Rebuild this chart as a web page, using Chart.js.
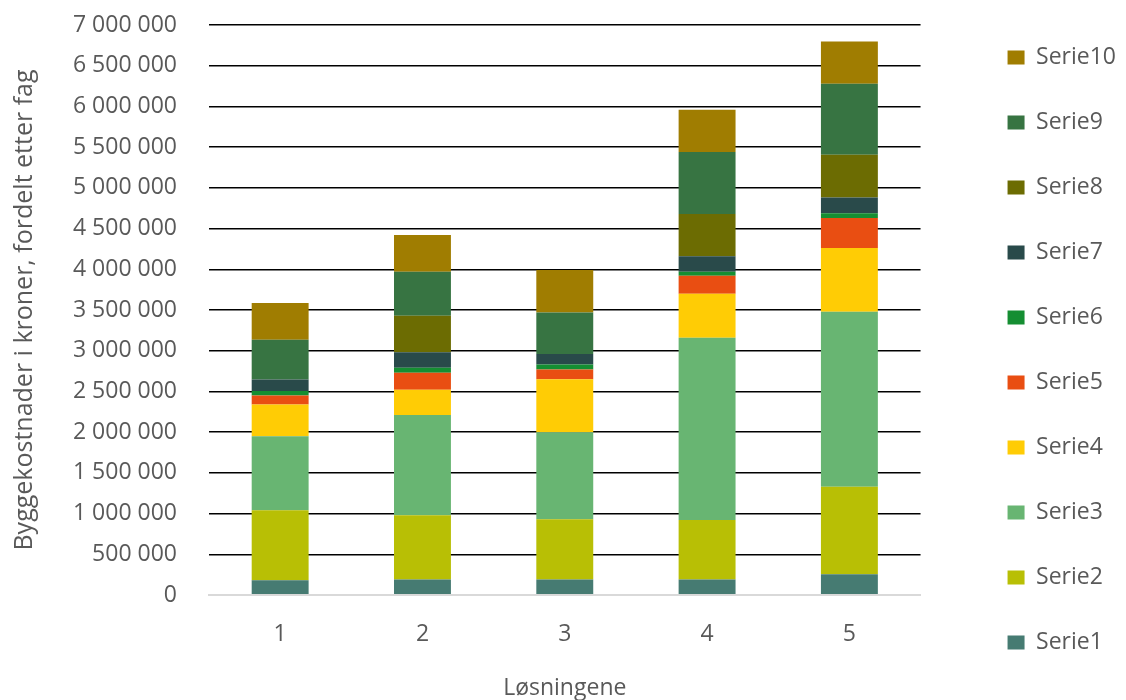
<!DOCTYPE html>
<html>
<head>
<meta charset="utf-8">
<script src="https://cdn.jsdelivr.net/npm/chart.js@4"></script>
<style>
  html, body { margin: 0; padding: 0; background: #fff; }
  #wrap { width: 1126px; height: 700px; position: relative; }
</style>
</head>
<body>
<div id="wrap"><canvas id="chart"></canvas></div>
<script>
// categories (løsninger)
const labels = ["1", "2", "3", "4", "5"];

// kroner per serie
const serie1 = [180000, 190000, 190000, 190000, 255000];
const serie2 = [860000, 790000, 740000, 730000, 1075000];
const serie3 = [910000, 1230000, 1070000, 2240000, 2150000];
const serie4 = [390000, 310000, 650000, 540000, 780000];
const serie5 = [110000, 210000, 120000, 220000, 370000];
const serie6 = [55000, 60000, 60000, 50000, 58000];
const serie7 = [140000, 190000, 130000, 190000, 195000];
const serie8 = [0, 450000, 0, 520000, 525000];
const serie9 = [490000, 540000, 510000, 760000, 870000];
const serie10 = [450000, 450000, 520000, 520000, 520000];

const seriesNames = ["Serie1", "Serie2", "Serie3", "Serie4", "Serie5",
                     "Serie6", "Serie7", "Serie8", "Serie9", "Serie10"];
const seriesData = [serie1, serie2, serie3, serie4, serie5,
                    serie6, serie7, serie8, serie9, serie10];
const colors = ["#467b72", "#b8bf05", "#68b572", "#ffcc05", "#e94e12",
                "#158e32", "#294a4a", "#6c6c02", "#377442", "#a07d01"];

const textColor = "#595959";
const fontFamily = "'Open Sans', sans-serif";

const datasets = seriesNames.map((name, i) => ({
  label: name,
  data: seriesData[i],
  backgroundColor: colors[i],
  borderWidth: 0,
  barPercentage: 0.4,
  categoryPercentage: 1.0
}));

function spaced(v) {
  return String(v).replace(/\B(?=(\d{3})+(?!\d))/g, " ");
}

const ctx = document.getElementById("chart").getContext("2d");
new Chart(ctx, {
  type: "bar",
  data: { labels: labels, datasets: datasets },
  options: {
    responsive: true,
    maintainAspectRatio: false,
    animation: false,
    layout: { padding: 0 },
    plugins: {
      tooltip: { enabled: false },
      legend: {
        position: "right",
        reverse: true,
        labels: {
          boxWidth: 17,
          boxHeight: 14,
          padding: 42,
          color: textColor,
          font: { family: fontFamily, size: 23 }
        }
      }
    },
    scales: {
      x: {
        stacked: true,
        grid: { display: false, drawTicks: false },
        border: { display: true, color: "#d9d9d9", width: 2 },
        ticks: {
          color: textColor,
          padding: 26,
          font: { family: fontFamily, size: 23 }
        },
        title: {
          display: true,
          text: "Løsningene",
          color: textColor,
          font: { family: fontFamily, size: 23, lineHeight: 1 },
          padding: { top: 0, bottom: 0 }
        },
        afterFit: (s) => { s.height = 105; s.paddingLeft = 0; s.paddingRight = 0; }
      },
      y: {
        stacked: true,
        min: 0,
        max: 7000000,
        grid: {
          drawTicks: false,
          color: (c) => (c.tick && c.tick.value === 0 ? "#d9d9d9" : "#000000"),
          lineWidth: (c) => (c.tick && c.tick.value === 0 ? 2 : 1.4)
        },
        border: { display: false },
        ticks: {
          stepSize: 500000,
          padding: 32,
          color: textColor,
          font: { family: fontFamily, size: 23 },
          callback: (v) => spaced(v)
        },
        title: {
          display: true,
          text: "Byggekostnader i kroner, fordelt etter fag",
          color: textColor,
          font: { family: fontFamily, size: 25, lineHeight: 1 },
          padding: { top: 12, bottom: 0 }
        },
        afterFit: (s) => { s.width = 209; s.paddingTop = 25; s.paddingBottom = 0; }
      },
      // empty spacer between plot and legend
      gap: {
        position: "right",
        display: true,
        grid: { display: false },
        border: { display: false },
        ticks: { display: false },
        afterFit: (s) => { s.width = 45; s.paddingTop = 0; s.paddingBottom = 0; }
      }
    }
  }
});
</script>
</body>
</html>
